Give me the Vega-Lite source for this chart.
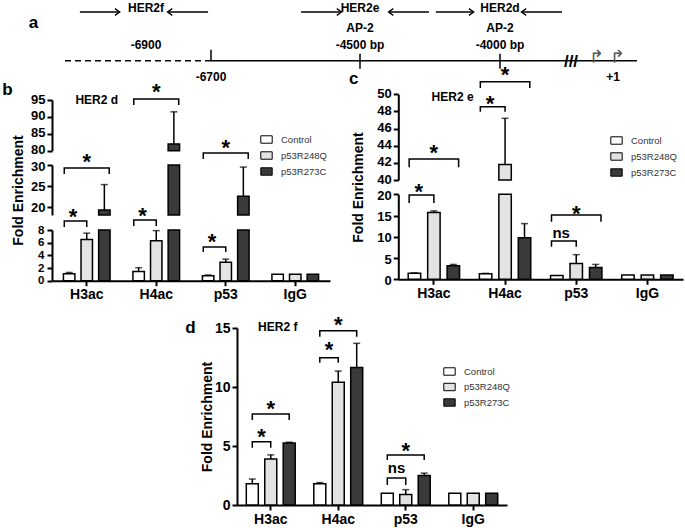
{
"$schema":"https://vega.github.io/schema/vega-lite/v6.json",
"width":685,"height":528,"autosize":{"type":"none"},"padding":0,
"background":"white",
"config":{"view":{"stroke":null},"font":"Liberation Sans",
 "axis":{"domainColor":"black","domainWidth":2,"tickColor":"black","tickWidth":2,"tickSize":5,"labelFontSize":14,"labelFontWeight":"bold","labelColor":"black","labelPadding":2,"grid":false,"labelFont":"Liberation Sans","titleFont":"Liberation Sans","titleColor":"black","titleFontWeight":"bold","titleFontSize":14,"labelFlush":false,"labelOverlap":false},
 "axisX":{"labelAngle":0},
 "text":{"font":"Liberation Sans","color":"black"}
},
"datasets":{
 "a_line":[{"from":-7150,"to":-6700,"kind":"distal"},{"from":-6700,"to":850,"kind":"proximal"}],
 "a_marks":[{"bp":-6700,"kind":"boundary"},{"bp":-4500,"kind":"AP-2 site"},{"bp":-4000,"kind":"AP-2 site"}],
 "a_primers":[
  {"primer":"HER2f","dir":"forward","tail":-7104,"head":-6983},
  {"primer":"HER2f","dir":"reverse","tail":-6709,"head":-6832},
  {"primer":"HER2e","dir":"forward","tail":-5371,"head":-4781},
  {"primer":"HER2e","dir":"reverse","tail":-4254,"head":-4396},
  {"primer":"HER2d","dir":"forward","tail":-4229,"head":-4096},
  {"primer":"HER2d","dir":"reverse","tail":-1817,"head":-3225}],
 "a_text":[
  {"text":"HER2f","bp":-6900,"track":"amplicon"},
  {"text":"HER2e","bp":-4500,"track":"amplicon"},
  {"text":"HER2d","bp":-4000,"track":"amplicon"},
  {"text":"AP-2","bp":-4500,"track":"site"},
  {"text":"AP-2","bp":-4000,"track":"site"},
  {"text":"-6900","bp":-6900,"track":"coord"},
  {"text":"-4500 bp","bp":-4500,"track":"coord"},
  {"text":"-4000 bp","bp":-4000,"track":"coord"},
  {"text":"-6700","bp":-6700,"track":"below"},
  {"text":"+1","bp":1,"track":"below"}],
 "a_tss":[{"bp":-750,"site":"TSS"},{"bp":1,"site":"TSS +1"}],
 "a_break":[{"bp":-1500,"symbol":"///"}],
 "hd":[
  {"group":"H3ac","series":"Control","value":1.1,"upper":1.3},
  {"group":"H3ac","series":"p53R248Q","value":6.5,"upper":7.5},
  {"group":"H3ac","series":"p53R273C","value":19.2,"upper":25.3},
  {"group":"H4ac","series":"Control","value":1.45,"upper":2.05},
  {"group":"H4ac","series":"p53R248Q","value":6.3,"upper":7.9},
  {"group":"H4ac","series":"p53R273C","value":82,"upper":91.5},
  {"group":"p53","series":"Control","value":0.8,"upper":0.9},
  {"group":"p53","series":"p53R248Q","value":2.9,"upper":3.4},
  {"group":"p53","series":"p53R273C","value":22.5,"upper":29.5},
  {"group":"IgG","series":"Control","value":1,"upper":null},
  {"group":"IgG","series":"p53R248Q","value":1,"upper":null},
  {"group":"IgG","series":"p53R273C","value":1,"upper":null}],
 "hd_br":[
  {"id":"b1","group":"H3ac","series":"Control","y":10.0,"ord":1},
  {"id":"b1","group":"H3ac","series":"Control","y":14.0,"ord":2},
  {"id":"b1","group":"H3ac","series":"p53R248Q","y":14.0,"ord":3},
  {"id":"b1","group":"H3ac","series":"p53R248Q","y":10.0,"ord":4},
  {"id":"b2","group":"H3ac","series":"Control","y":27.84,"ord":1},
  {"id":"b2","group":"H3ac","series":"Control","y":29.28,"ord":2},
  {"id":"b2","group":"H3ac","series":"p53R273C","y":29.28,"ord":3},
  {"id":"b2","group":"H3ac","series":"p53R273C","y":27.84,"ord":4},
  {"id":"b3","group":"H4ac","series":"Control","y":10.67,"ord":1},
  {"id":"b3","group":"H4ac","series":"Control","y":14.67,"ord":2},
  {"id":"b3","group":"H4ac","series":"p53R248Q","y":14.67,"ord":3},
  {"id":"b3","group":"H4ac","series":"p53R248Q","y":10.67,"ord":4},
  {"id":"b4","group":"H4ac","series":"Control","y":93.5,"ord":1},
  {"id":"b4","group":"H4ac","series":"Control","y":95.3,"ord":2},
  {"id":"b4","group":"H4ac","series":"p53R273C","y":95.3,"ord":3},
  {"id":"b4","group":"H4ac","series":"p53R273C","y":93.5,"ord":4},
  {"id":"b5","group":"p53","series":"Control","y":4.53,"ord":1},
  {"id":"b5","group":"p53","series":"Control","y":5.32,"ord":2},
  {"id":"b5","group":"p53","series":"p53R248Q","y":5.32,"ord":3},
  {"id":"b5","group":"p53","series":"p53R248Q","y":4.53,"ord":4},
  {"id":"b6","group":"p53","series":"Control","y":51,"ord":1},
  {"id":"b6","group":"p53","series":"Control","y":72,"ord":2},
  {"id":"b6","group":"p53","series":"p53R273C","y":72,"ord":3},
  {"id":"b6","group":"p53","series":"p53R273C","y":51,"ord":4}],
 "hd_sig":[
  {"group":"H3ac","comparison":"Control vs p53R248Q","label":"*","y":18.96},
  {"group":"H3ac","comparison":"Control vs p53R273C","label":"*","y":58},
  {"group":"H4ac","comparison":"Control vs p53R248Q","label":"*","y":19.2},
  {"group":"H4ac","comparison":"Control vs p53R273C","label":"*","y":98.85},
  {"group":"p53","comparison":"Control vs p53R248Q","label":"*","y":6.9},
  {"group":"p53","comparison":"Control vs p53R273C","label":"*","y":82.3}],
 "he":[
  {"group":"H3ac","series":"Control","value":1.4,"upper":1.5},
  {"group":"H3ac","series":"p53R248Q","value":15.7,"upper":16.1},
  {"group":"H3ac","series":"p53R273C","value":3.2,"upper":3.5},
  {"group":"H4ac","series":"Control","value":1.3,"upper":1.4},
  {"group":"H4ac","series":"p53R248Q","value":41.8,"upper":47.2},
  {"group":"H4ac","series":"p53R273C","value":9.8,"upper":13.1},
  {"group":"p53","series":"Control","value":0.9,"upper":null},
  {"group":"p53","series":"p53R248Q","value":3.7,"upper":5.8},
  {"group":"p53","series":"p53R273C","value":2.8,"upper":3.5},
  {"group":"IgG","series":"Control","value":1,"upper":null},
  {"group":"IgG","series":"p53R248Q","value":1,"upper":null},
  {"group":"IgG","series":"p53R273C","value":1,"upper":null}],
 "he_br":[
  {"id":"c1","group":"H3ac","series":"Control","y":17.95,"ord":1},
  {"id":"c1","group":"H3ac","series":"Control","y":19.84,"ord":2},
  {"id":"c1","group":"H3ac","series":"p53R248Q","y":19.84,"ord":3},
  {"id":"c1","group":"H3ac","series":"p53R248Q","y":17.95,"ord":4},
  {"id":"c2","group":"H3ac","series":"Control","y":41.5,"ord":1},
  {"id":"c2","group":"H3ac","series":"Control","y":42.45,"ord":2},
  {"id":"c2","group":"H3ac","series":"p53R273C","y":42.45,"ord":3},
  {"id":"c2","group":"H3ac","series":"p53R273C","y":41.5,"ord":4},
  {"id":"c3","group":"H4ac","series":"Control","y":47.97,"ord":1},
  {"id":"c3","group":"H4ac","series":"Control","y":48.55,"ord":2},
  {"id":"c3","group":"H4ac","series":"p53R248Q","y":48.55,"ord":3},
  {"id":"c3","group":"H4ac","series":"p53R248Q","y":47.97,"ord":4},
  {"id":"c4","group":"H4ac","series":"Control","y":50.74,"ord":1},
  {"id":"c4","group":"H4ac","series":"Control","y":51.47,"ord":2},
  {"id":"c4","group":"H4ac","series":"p53R273C","y":51.47,"ord":3},
  {"id":"c4","group":"H4ac","series":"p53R273C","y":50.74,"ord":4},
  {"id":"c5","group":"p53","series":"Control","y":7.67,"ord":1},
  {"id":"c5","group":"p53","series":"Control","y":9.01,"ord":2},
  {"id":"c5","group":"p53","series":"p53R248Q","y":9.01,"ord":3},
  {"id":"c5","group":"p53","series":"p53R248Q","y":7.67,"ord":4},
  {"id":"c6","group":"p53","series":"Control","y":13.55,"ord":1},
  {"id":"c6","group":"p53","series":"Control","y":15.13,"ord":2},
  {"id":"c6","group":"p53","series":"p53R273C","y":15.13,"ord":3},
  {"id":"c6","group":"p53","series":"p53R273C","y":13.55,"ord":4}],
 "he_sig":[
  {"group":"H3ac","comparison":"Control vs p53R248Q","label":"*","y":30.6},
  {"group":"H3ac","comparison":"Control vs p53R273C","label":"*","y":43.85},
  {"group":"H4ac","comparison":"Control vs p53R248Q","label":"*","y":49.5},
  {"group":"H4ac","comparison":"Control vs p53R273C","label":"*","y":52.84},
  {"group":"p53","comparison":"Control vs p53R248Q","label":"ns","y":10.82},
  {"group":"p53","comparison":"Control vs p53R273C","label":"*","y":16.7}],
 "hf":[
  {"group":"H3ac","series":"Control","value":1.8,"upper":2.2},
  {"group":"H3ac","series":"p53R248Q","value":3.9,"upper":4.25},
  {"group":"H3ac","series":"p53R273C","value":5.25,"upper":5.32},
  {"group":"H4ac","series":"Control","value":1.8,"upper":1.9},
  {"group":"H4ac","series":"p53R248Q","value":10.4,"upper":11.35},
  {"group":"H4ac","series":"p53R273C","value":11.65,"upper":13.7},
  {"group":"p53","series":"Control","value":1.0,"upper":null},
  {"group":"p53","series":"p53R248Q","value":0.9,"upper":1.3},
  {"group":"p53","series":"p53R273C","value":2.5,"upper":2.7},
  {"group":"IgG","series":"Control","value":1,"upper":null},
  {"group":"IgG","series":"p53R248Q","value":1,"upper":null},
  {"group":"IgG","series":"p53R273C","value":1,"upper":null}],
 "hf_br":[
  {"id":"d1","group":"H3ac","series":"Control","y":4.86,"ord":1},
  {"id":"d1","group":"H3ac","series":"Control","y":5.36,"ord":2},
  {"id":"d1","group":"H3ac","series":"p53R248Q","y":5.36,"ord":3},
  {"id":"d1","group":"H3ac","series":"p53R248Q","y":4.86,"ord":4},
  {"id":"d2","group":"H3ac","series":"Control","y":7.2,"ord":1},
  {"id":"d2","group":"H3ac","series":"Control","y":7.71,"ord":2},
  {"id":"d2","group":"H3ac","series":"p53R273C","y":7.71,"ord":3},
  {"id":"d2","group":"H3ac","series":"p53R273C","y":7.2,"ord":4},
  {"id":"d3","group":"H4ac","series":"Control","y":12.06,"ord":1},
  {"id":"d3","group":"H4ac","series":"Control","y":12.48,"ord":2},
  {"id":"d3","group":"H4ac","series":"p53R248Q","y":12.48,"ord":3},
  {"id":"d3","group":"H4ac","series":"p53R248Q","y":12.06,"ord":4},
  {"id":"d4","group":"H4ac","series":"Control","y":14.26,"ord":1},
  {"id":"d4","group":"H4ac","series":"Control","y":14.77,"ord":2},
  {"id":"d4","group":"H4ac","series":"p53R273C","y":14.77,"ord":3},
  {"id":"d4","group":"H4ac","series":"p53R273C","y":14.26,"ord":4},
  {"id":"d5","group":"p53","series":"Control","y":1.69,"ord":1},
  {"id":"d5","group":"p53","series":"Control","y":2.29,"ord":2},
  {"id":"d5","group":"p53","series":"p53R248Q","y":2.29,"ord":3},
  {"id":"d5","group":"p53","series":"p53R248Q","y":1.69,"ord":4},
  {"id":"d6","group":"p53","series":"Control","y":3.81,"ord":1},
  {"id":"d6","group":"p53","series":"Control","y":4.24,"ord":2},
  {"id":"d6","group":"p53","series":"p53R273C","y":4.24,"ord":3},
  {"id":"d6","group":"p53","series":"p53R273C","y":3.81,"ord":4}],
 "hf_sig":[
  {"group":"H3ac","comparison":"Control vs p53R248Q","label":"*","y":6.21},
  {"group":"H3ac","comparison":"Control vs p53R273C","label":"*","y":8.62},
  {"group":"H4ac","comparison":"Control vs p53R248Q","label":"*","y":13.56},
  {"group":"H4ac","comparison":"Control vs p53R273C","label":"*","y":15.68},
  {"group":"p53","comparison":"Control vs p53R248Q","label":"ns","y":3.11},
  {"group":"p53","comparison":"Control vs p53R273C","label":"*","y":5.08}]
},
"layer":[
 {"layer":[
  {"data":{"name":"a_line"},"mark":{"type":"rule","strokeWidth":1.5,"color":"black"},
   "encoding":{
    "x":{"field":"from","type":"quantitative","scale":{"domain":[-7150,-6900,-6700,-4500,-4000,-1500,1,850],"range":[65,146,211,360,500,571,613,637],"nice":false,"zero":false},"axis":null},
    "x2":{"field":"to"},
    "y":{"datum":"line","type":"ordinal","scale":{"type":"point","domain":["amplicon","site","coord","line","below"],"range":[12,77],"padding":0},"axis":{"orient":"left","domain":false,"ticks":false,"labels":false,"title":"a","titleAngle":0,"titleX":33,"titleY":22,"titleFontSize":17,"titleAlign":"center","titleBaseline":"middle"}},
    "strokeDash":{"field":"kind","type":"nominal","scale":{"domain":["distal","proximal"],"range":[[6,4],[1,0]]},"legend":null}}},
  {"data":{"name":"a_marks"},"transform":[{"filter":"datum.kind == 'boundary'"}],"mark":{"type":"rule","strokeWidth":1.5,"color":"black","y2Offset":-11},
   "encoding":{"x":{"field":"bp","type":"quantitative"},"y":{"datum":"line","type":"ordinal"},"y2":{"datum":"line"}}},
  {"data":{"name":"a_marks"},"transform":[{"filter":"datum.kind == 'AP-2 site'"}],"mark":{"type":"rule","strokeWidth":1.5,"color":"black","yOffset":-7,"y2Offset":8},
   "encoding":{"x":{"field":"bp","type":"quantitative"},"y":{"datum":"line","type":"ordinal"},"y2":{"datum":"line"}}},
  {"data":{"name":"a_primers"},"mark":{"type":"rule","strokeWidth":1.3,"color":"black"},
   "encoding":{"x":{"field":"tail","type":"quantitative"},"x2":{"field":"head"},"y":{"datum":"amplicon","type":"ordinal"}}},
  {"data":{"name":"a_primers"},"mark":{"type":"point","filled":false,"stroke":"black","strokeWidth":1.3,"size":70,"opacity":1},
   "encoding":{"x":{"field":"head","type":"quantitative"},"y":{"datum":"amplicon","type":"ordinal"},
    "shape":{"field":"dir","type":"nominal","scale":{"domain":["forward","reverse"],"range":["M-1,-0.8L0.15,0L-1,0.8","M1,-0.8L-0.15,0L1,0.8"]},"legend":null}}},
  {"data":{"name":"a_text"},"transform":[{"filter":"datum.track == 'amplicon'"}],"mark":{"type":"text","fontSize":12,"fontWeight":"bold","align":"center","baseline":"middle","dy":-4},
   "encoding":{"x":{"field":"bp","type":"quantitative"},"y":{"field":"track","type":"ordinal"},"text":{"field":"text"}}},
  {"data":{"name":"a_text"},"transform":[{"filter":"datum.track != 'amplicon'"}],"mark":{"type":"text","fontSize":12,"fontWeight":"bold","align":"center","baseline":"middle"},
   "encoding":{"x":{"field":"bp","type":"quantitative"},"y":{"field":"track","type":"ordinal"},"text":{"field":"text"}}},
  {"data":{"name":"a_break"},"mark":{"type":"text","fontSize":17,"fontWeight":"bold","align":"center","baseline":"middle","dy":1},
   "encoding":{"x":{"field":"bp","type":"quantitative"},"y":{"datum":"line","type":"ordinal"},"text":{"field":"symbol"}}},
  {"data":{"name":"a_tss"},"mark":{"type":"text","font":"DejaVu Sans","fontSize":18,"align":"left","baseline":"alphabetic","dx":-3,"dy":2,"color":"#555555"},
   "encoding":{"x":{"field":"bp","type":"quantitative"},"y":{"datum":"line","type":"ordinal"},"text":{"value":"↱"}}}
 ]},

 {"data":{"name":"hd"},"transform":[{"filter":"datum.value > 80"}],"mark":{"type":"bar","stroke":"black","strokeWidth":1.5},
  "encoding":{
   "x":{"field":"group","type":"nominal","scale":{"domain":["H3ac","H4ac","p53","IgG"],"range":[52,330],"paddingInner":0.24,"paddingOuter":0.12},"axis":null},
   "xOffset":{"field":"series","type":"nominal","scale":{"domain":["Control","p53R248Q","p53R273C"],"paddingInner":0.35,"paddingOuter":0.175}},
   "y":{"field":"value","type":"quantitative","stack":null,"scale":{"domain":[80,95],"range":[150.7,100],"clamp":true,"nice":false,"zero":false},"axis":{"orient":"left","offset":-52,"values":[80,85,90,95],"labelFontSize":13,"labelOffset":-1,"title":"b","titleAngle":0,"titleX":-45,"titleY":89,"titleFontSize":17,"titleAlign":"center","titleBaseline":"middle"}},
   "fill":{"field":"series","type":"nominal","scale":{"domain":["Control","p53R248Q","p53R273C"],"range":["#ffffff","#e3e3e3","#3a3a3a"]},"legend":null}}},
 {"data":{"name":"hd"},"transform":[{"filter":"isValid(datum.upper) && datum.value > 80"}],"mark":{"type":"rule","color":"black","strokeWidth":1.5},
  "encoding":{
   "x":{"field":"group","type":"nominal","scale":{"domain":["H3ac","H4ac","p53","IgG"],"range":[52,330],"paddingInner":0.24,"paddingOuter":0.12},"axis":null},
   "xOffset":{"field":"series","type":"nominal","scale":{"domain":["Control","p53R248Q","p53R273C"],"paddingInner":0.35,"paddingOuter":0.175}},
   "y":{"field":"value","type":"quantitative","scale":{"domain":[80,95],"range":[150.7,100],"clamp":true,"nice":false,"zero":false},"axis":null},"y2":{"field":"upper"}}},
 {"data":{"name":"hd"},"transform":[{"filter":"isValid(datum.upper) && datum.value > 80"}],"mark":{"type":"tick","color":"black","size":7,"thickness":1.5},
  "encoding":{
   "x":{"field":"group","type":"nominal","scale":{"domain":["H3ac","H4ac","p53","IgG"],"range":[52,330],"paddingInner":0.24,"paddingOuter":0.12},"axis":null},
   "xOffset":{"field":"series","type":"nominal","scale":{"domain":["Control","p53R248Q","p53R273C"],"paddingInner":0.35,"paddingOuter":0.175}},
   "y":{"field":"upper","type":"quantitative","scale":{"domain":[80,95],"range":[150.7,100],"clamp":true,"nice":false,"zero":false},"axis":null}}},

 {"data":{"name":"hd"},"transform":[{"filter":"datum.value > 18"}],"mark":{"type":"bar","stroke":"black","strokeWidth":1.5},
  "encoding":{
   "x":{"field":"group","type":"nominal","scale":{"domain":["H3ac","H4ac","p53","IgG"],"range":[52,330],"paddingInner":0.24,"paddingOuter":0.12},"axis":null},
   "xOffset":{"field":"series","type":"nominal","scale":{"domain":["Control","p53R248Q","p53R273C"],"paddingInner":0.35,"paddingOuter":0.175}},
   "y":{"field":"value","type":"quantitative","stack":null,"scale":{"domain":[18,30],"range":[215,165],"clamp":true,"nice":false,"zero":false},"axis":{"orient":"left","offset":-52,"values":[20,25,30],"labelFontSize":13,"labelOffset":1,"title":"Fold Enrichment","titleX":-34,"titleY":190,"titleAngle":-90,"titleAlign":"center","titleBaseline":"middle"}},
   "fill":{"field":"series","type":"nominal","scale":{"domain":["Control","p53R248Q","p53R273C"],"range":["#ffffff","#e3e3e3","#3a3a3a"]},"legend":null}}},
 {"data":{"name":"hd"},"transform":[{"filter":"isValid(datum.upper) && datum.value > 18 && datum.value < 30"}],"mark":{"type":"rule","color":"black","strokeWidth":1.5},
  "encoding":{
   "x":{"field":"group","type":"nominal","scale":{"domain":["H3ac","H4ac","p53","IgG"],"range":[52,330],"paddingInner":0.24,"paddingOuter":0.12},"axis":null},
   "xOffset":{"field":"series","type":"nominal","scale":{"domain":["Control","p53R248Q","p53R273C"],"paddingInner":0.35,"paddingOuter":0.175}},
   "y":{"field":"value","type":"quantitative","scale":{"domain":[18,30],"range":[215,165],"clamp":true,"nice":false,"zero":false},"axis":null},"y2":{"field":"upper"}}},
 {"data":{"name":"hd"},"transform":[{"filter":"isValid(datum.upper) && datum.value > 18 && datum.value < 30"}],"mark":{"type":"tick","color":"black","size":7,"thickness":1.5},
  "encoding":{
   "x":{"field":"group","type":"nominal","scale":{"domain":["H3ac","H4ac","p53","IgG"],"range":[52,330],"paddingInner":0.24,"paddingOuter":0.12},"axis":null},
   "xOffset":{"field":"series","type":"nominal","scale":{"domain":["Control","p53R248Q","p53R273C"],"paddingInner":0.35,"paddingOuter":0.175}},
   "y":{"field":"upper","type":"quantitative","scale":{"domain":[18,30],"range":[215,165],"clamp":true,"nice":false,"zero":false},"axis":null}}},

 {"data":{"name":"hd"},"mark":{"type":"bar","stroke":"black","strokeWidth":1.5},
  "encoding":{
   "x":{"field":"group","type":"nominal","scale":{"domain":["H3ac","H4ac","p53","IgG"],"range":[52,330],"paddingInner":0.24,"paddingOuter":0.12},"axis":{"orient":"bottom","offset":-247.3,"title":null}},
   "xOffset":{"field":"series","type":"nominal","scale":{"domain":["Control","p53R248Q","p53R273C"],"paddingInner":0.35,"paddingOuter":0.175}},
   "y":{"field":"value","type":"quantitative","stack":null,"scale":{"domain":[0,8],"range":[280.7,230],"clamp":true,"nice":false,"zero":false},"axis":{"orient":"left","offset":-52,"values":[0,2,4,6,8],"title":null,"labelFontSize":11.5,"labelPadding":3}},
   "fill":{"field":"series","type":"nominal","scale":{"domain":["Control","p53R248Q","p53R273C"],"range":["#ffffff","#e3e3e3","#3a3a3a"]},"legend":{"orient":"none","legendX":260,"legendY":133,"title":null,"symbolType":"M-1,-0.65H1V0.65H-1Z","symbolSize":130,"symbolStrokeColor":"black","symbolStrokeWidth":1,"labelFontSize":9.5,"labelColor":"#333333","labelFont":"Liberation Sans","labelFontWeight":"normal","rowPadding":3,"labelOffset":8,"padding":0}}}},
 {"data":{"name":"hd"},"transform":[{"filter":"isValid(datum.upper) && datum.value <= 8"}],"mark":{"type":"rule","color":"black","strokeWidth":1.5},
  "encoding":{
   "x":{"field":"group","type":"nominal","scale":{"domain":["H3ac","H4ac","p53","IgG"],"range":[52,330],"paddingInner":0.24,"paddingOuter":0.12},"axis":null},
   "xOffset":{"field":"series","type":"nominal","scale":{"domain":["Control","p53R248Q","p53R273C"],"paddingInner":0.35,"paddingOuter":0.175}},
   "y":{"field":"value","type":"quantitative","scale":{"domain":[0,8],"range":[280.7,230],"clamp":true,"nice":false,"zero":false},"axis":null},"y2":{"field":"upper"}}},
 {"data":{"name":"hd"},"transform":[{"filter":"isValid(datum.upper) && datum.value <= 8"}],"mark":{"type":"tick","color":"black","size":7,"thickness":1.5},
  "encoding":{
   "x":{"field":"group","type":"nominal","scale":{"domain":["H3ac","H4ac","p53","IgG"],"range":[52,330],"paddingInner":0.24,"paddingOuter":0.12},"axis":null},
   "xOffset":{"field":"series","type":"nominal","scale":{"domain":["Control","p53R248Q","p53R273C"],"paddingInner":0.35,"paddingOuter":0.175}},
   "y":{"field":"upper","type":"quantitative","scale":{"domain":[0,8],"range":[280.7,230],"clamp":true,"nice":false,"zero":false},"axis":null}}},

 {"layer":[
  {"data":{"name":"hd_br"},"mark":{"type":"line","color":"black","strokeWidth":1.5},
   "encoding":{"x":{"field":"group","type":"nominal","scale":{"domain":["H3ac","H4ac","p53","IgG"],"range":[52,330],"paddingInner":0.24,"paddingOuter":0.12},"axis":null},
    "xOffset":{"field":"series","type":"nominal","scale":{"domain":["Control","p53R248Q","p53R273C"],"paddingInner":0.35,"paddingOuter":0.175}},
    "y":{"field":"y","type":"quantitative","scale":{"domain":[0,8,18,30,80,95],"range":[280.7,230,215,165,150.7,100],"nice":false,"zero":false},"axis":null},
    "detail":{"field":"id"},"order":{"field":"ord"}}},
  {"data":{"name":"hd_sig"},"transform":[{"filter":"datum.comparison == 'Control vs p53R248Q'"}],"mark":{"type":"text","fontSize":22,"fontWeight":"bold","align":"center","baseline":"middle","dx":8.8,"dy":5.5},
   "encoding":{"x":{"field":"group","type":"nominal"},"xOffset":{"datum":"Control","type":"nominal"},"y":{"field":"y","type":"quantitative"},"text":{"field":"label"}}},
  {"data":{"name":"hd_sig"},"transform":[{"filter":"datum.comparison == 'Control vs p53R273C'"}],"mark":{"type":"text","fontSize":22,"fontWeight":"bold","align":"center","baseline":"middle","dy":5.5},
   "encoding":{"x":{"field":"group","type":"nominal"},"xOffset":{"datum":"p53R248Q","type":"nominal"},"y":{"field":"y","type":"quantitative"},"text":{"field":"label"}}},
  {"data":{"values":[{"target":"HER2 d"}]},"mark":{"type":"text","fontSize":12,"fontWeight":"bold","align":"center","baseline":"middle","dx":10},
   "encoding":{"x":{"datum":"H3ac","type":"nominal"},"xOffset":{"datum":"p53R248Q","type":"nominal"},"y":{"datum":95,"type":"quantitative"},"text":{"field":"target"}}}
 ]},

 {"data":{"name":"he"},"transform":[{"filter":"datum.value > 40"}],"mark":{"type":"bar","stroke":"black","strokeWidth":1.5},
  "encoding":{
   "x":{"field":"group","type":"nominal","scale":{"domain":["H3ac","H4ac","p53","IgG"],"range":[398.3,683],"paddingInner":0.18,"paddingOuter":0.09},"axis":null},
   "xOffset":{"field":"series","type":"nominal","scale":{"domain":["Control","p53R248Q","p53R273C"],"paddingInner":0.36,"paddingOuter":0.18}},
   "y":{"field":"value","type":"quantitative","stack":null,"scale":{"domain":[40,50],"range":[180,94.3],"clamp":true,"nice":false,"zero":false},"axis":{"orient":"left","offset":-398.3,"values":[40,42,44,46,48,50],"labelFontSize":13,"labelOffset":-1,"title":"c","titleAngle":0,"titleX":-45,"titleY":78,"titleFontSize":17,"titleAlign":"center","titleBaseline":"middle"}},
   "fill":{"field":"series","type":"nominal","scale":{"domain":["Control","p53R248Q","p53R273C"],"range":["#ffffff","#e3e3e3","#3a3a3a"]},"legend":null}}},
 {"data":{"name":"he"},"transform":[{"filter":"isValid(datum.upper) && datum.value > 40"}],"mark":{"type":"rule","color":"black","strokeWidth":1.5},
  "encoding":{
   "x":{"field":"group","type":"nominal","scale":{"domain":["H3ac","H4ac","p53","IgG"],"range":[398.3,683],"paddingInner":0.18,"paddingOuter":0.09},"axis":null},
   "xOffset":{"field":"series","type":"nominal","scale":{"domain":["Control","p53R248Q","p53R273C"],"paddingInner":0.36,"paddingOuter":0.18}},
   "y":{"field":"value","type":"quantitative","scale":{"domain":[40,50],"range":[180,94.3],"clamp":true,"nice":false,"zero":false},"axis":null},"y2":{"field":"upper"}}},
 {"data":{"name":"he"},"transform":[{"filter":"isValid(datum.upper) && datum.value > 40"}],"mark":{"type":"tick","color":"black","size":7,"thickness":1.5},
  "encoding":{
   "x":{"field":"group","type":"nominal","scale":{"domain":["H3ac","H4ac","p53","IgG"],"range":[398.3,683],"paddingInner":0.18,"paddingOuter":0.09},"axis":null},
   "xOffset":{"field":"series","type":"nominal","scale":{"domain":["Control","p53R248Q","p53R273C"],"paddingInner":0.36,"paddingOuter":0.18}},
   "y":{"field":"upper","type":"quantitative","scale":{"domain":[40,50],"range":[180,94.3],"clamp":true,"nice":false,"zero":false},"axis":null}}},

 {"data":{"name":"he"},"mark":{"type":"bar","stroke":"black","strokeWidth":1.5},
  "encoding":{
   "x":{"field":"group","type":"nominal","scale":{"domain":["H3ac","H4ac","p53","IgG"],"range":[398.3,683],"paddingInner":0.18,"paddingOuter":0.09},"axis":{"orient":"bottom","offset":-248.7,"title":null}},
   "xOffset":{"field":"series","type":"nominal","scale":{"domain":["Control","p53R248Q","p53R273C"],"paddingInner":0.36,"paddingOuter":0.18}},
   "y":{"field":"value","type":"quantitative","stack":null,"scale":{"domain":[0,20],"range":[279.3,194.3],"clamp":true,"nice":false,"zero":false},"axis":{"orient":"left","offset":-398.3,"values":[0,5,10,15,20],"labelFontSize":13,"labelOffset":1,"title":"Fold Enrichment","titleX":-40,"titleY":187,"titleAngle":-90,"titleAlign":"center","titleBaseline":"middle"}},
   "fill":{"field":"series","type":"nominal","scale":{"domain":["Control","p53R248Q","p53R273C"],"range":["#ffffff","#e3e3e3","#3a3a3a"]},"legend":{"orient":"none","legendX":610,"legendY":134,"title":null,"symbolType":"M-1,-0.65H1V0.65H-1Z","symbolSize":130,"symbolStrokeColor":"black","symbolStrokeWidth":1,"labelFontSize":9.5,"labelColor":"#333333","labelFont":"Liberation Sans","labelFontWeight":"normal","rowPadding":3,"labelOffset":8,"padding":0}}}},
 {"data":{"name":"he"},"transform":[{"filter":"isValid(datum.upper) && datum.value <= 20"}],"mark":{"type":"rule","color":"black","strokeWidth":1.5},
  "encoding":{
   "x":{"field":"group","type":"nominal","scale":{"domain":["H3ac","H4ac","p53","IgG"],"range":[398.3,683],"paddingInner":0.18,"paddingOuter":0.09},"axis":null},
   "xOffset":{"field":"series","type":"nominal","scale":{"domain":["Control","p53R248Q","p53R273C"],"paddingInner":0.36,"paddingOuter":0.18}},
   "y":{"field":"value","type":"quantitative","scale":{"domain":[0,20],"range":[279.3,194.3],"clamp":true,"nice":false,"zero":false},"axis":null},"y2":{"field":"upper"}}},
 {"data":{"name":"he"},"transform":[{"filter":"isValid(datum.upper) && datum.value <= 20"}],"mark":{"type":"tick","color":"black","size":7,"thickness":1.5},
  "encoding":{
   "x":{"field":"group","type":"nominal","scale":{"domain":["H3ac","H4ac","p53","IgG"],"range":[398.3,683],"paddingInner":0.18,"paddingOuter":0.09},"axis":null},
   "xOffset":{"field":"series","type":"nominal","scale":{"domain":["Control","p53R248Q","p53R273C"],"paddingInner":0.36,"paddingOuter":0.18}},
   "y":{"field":"upper","type":"quantitative","scale":{"domain":[0,20],"range":[279.3,194.3],"clamp":true,"nice":false,"zero":false},"axis":null}}},

 {"layer":[
  {"data":{"name":"he_br"},"mark":{"type":"line","color":"black","strokeWidth":1.5},
   "encoding":{"x":{"field":"group","type":"nominal","scale":{"domain":["H3ac","H4ac","p53","IgG"],"range":[398.3,683],"paddingInner":0.18,"paddingOuter":0.09},"axis":null},
    "xOffset":{"field":"series","type":"nominal","scale":{"domain":["Control","p53R248Q","p53R273C"],"paddingInner":0.36,"paddingOuter":0.18}},
    "y":{"field":"y","type":"quantitative","scale":{"domain":[0,20,40,50],"range":[279.3,194.3,180,94.3],"nice":false,"zero":false},"axis":null},
    "detail":{"field":"id"},"order":{"field":"ord"}}},
  {"data":{"name":"he_sig"},"transform":[{"filter":"datum.comparison == 'Control vs p53R248Q' && datum.label == '*'"}],"mark":{"type":"text","fontSize":22,"fontWeight":"bold","align":"center","baseline":"middle","dx":9.7,"dy":5.5},
   "encoding":{"x":{"field":"group","type":"nominal"},"xOffset":{"datum":"Control","type":"nominal"},"y":{"field":"y","type":"quantitative"},"text":{"field":"label"}}},
  {"data":{"name":"he_sig"},"transform":[{"filter":"datum.label == 'ns'"}],"mark":{"type":"text","fontSize":15,"fontWeight":"bold","align":"center","baseline":"middle","dx":9.7},
   "encoding":{"x":{"field":"group","type":"nominal"},"xOffset":{"datum":"Control","type":"nominal"},"y":{"field":"y","type":"quantitative"},"text":{"field":"label"}}},
  {"data":{"name":"he_sig"},"transform":[{"filter":"datum.comparison == 'Control vs p53R273C'"}],"mark":{"type":"text","fontSize":22,"fontWeight":"bold","align":"center","baseline":"middle","dy":5.5},
   "encoding":{"x":{"field":"group","type":"nominal"},"xOffset":{"datum":"p53R248Q","type":"nominal"},"y":{"field":"y","type":"quantitative"},"text":{"field":"label"}}},
  {"data":{"values":[{"target":"HER2 e"}]},"mark":{"type":"text","fontSize":12,"fontWeight":"bold","align":"center","baseline":"middle","dx":-6},
   "encoding":{"x":{"datum":"H3ac","type":"nominal"},"xOffset":{"datum":"p53R273C","type":"nominal"},"y":{"datum":49.72,"type":"quantitative"},"text":{"field":"target"}}}
 ]},

 {"layer":[
  {"data":{"name":"hf"},"mark":{"type":"bar","stroke":"black","strokeWidth":1.5},
   "encoding":{
    "x":{"field":"group","type":"nominal","scale":{"domain":["H3ac","H4ac","p53","IgG"],"range":[237,507],"paddingInner":0.18,"paddingOuter":0.09},"axis":{"orient":"bottom","offset":-23,"title":"d","titleX":190,"titleY":-178,"titleAngle":0,"titleFontSize":17,"titleAlign":"center","titleBaseline":"middle"}},
    "xOffset":{"field":"series","type":"nominal","scale":{"domain":["Control","p53R248Q","p53R273C"],"paddingInner":0.35,"paddingOuter":0.175}},
    "y":{"field":"value","type":"quantitative","stack":null,"scale":{"domain":[0,15],"range":[505,328],"nice":false,"zero":false},"axis":{"orient":"left","offset":-237,"values":[0,5,10,15],"title":"Fold Enrichment","titleX":-30,"titleY":416.5,"titleAngle":-90,"titleAlign":"center","titleBaseline":"middle"}},
    "fill":{"field":"series","type":"nominal","scale":{"domain":["Control","p53R248Q","p53R273C"],"range":["#ffffff","#e3e3e3","#3a3a3a"]},"legend":{"orient":"none","legendX":443,"legendY":365,"title":null,"symbolType":"M-1,-0.65H1V0.65H-1Z","symbolSize":130,"symbolStrokeColor":"black","symbolStrokeWidth":1,"labelFontSize":9.5,"labelColor":"#333333","labelFont":"Liberation Sans","labelFontWeight":"normal","rowPadding":2.5,"labelOffset":8,"padding":0}}}},
  {"data":{"name":"hf"},"transform":[{"filter":"isValid(datum.upper)"}],"mark":{"type":"rule","color":"black","strokeWidth":1.5},
   "encoding":{"x":{"field":"group","type":"nominal"},"xOffset":{"field":"series","type":"nominal"},"y":{"field":"value","type":"quantitative"},"y2":{"field":"upper"}}},
  {"data":{"name":"hf"},"transform":[{"filter":"isValid(datum.upper)"}],"mark":{"type":"tick","color":"black","size":7,"thickness":1.5},
   "encoding":{"x":{"field":"group","type":"nominal"},"xOffset":{"field":"series","type":"nominal"},"y":{"field":"upper","type":"quantitative"}}},
  {"data":{"name":"hf_br"},"mark":{"type":"line","color":"black","strokeWidth":1.5},
   "encoding":{"x":{"field":"group","type":"nominal"},"xOffset":{"field":"series","type":"nominal"},"y":{"field":"y","type":"quantitative"},"detail":{"field":"id"},"order":{"field":"ord"}}},
  {"data":{"name":"hf_sig"},"transform":[{"filter":"datum.comparison == 'Control vs p53R248Q' && datum.label == '*'"}],"mark":{"type":"text","fontSize":22,"fontWeight":"bold","align":"center","baseline":"middle","dx":9.2,"dy":5.5},
   "encoding":{"x":{"field":"group","type":"nominal"},"xOffset":{"datum":"Control","type":"nominal"},"y":{"field":"y","type":"quantitative"},"text":{"field":"label"}}},
  {"data":{"name":"hf_sig"},"transform":[{"filter":"datum.label == 'ns'"}],"mark":{"type":"text","fontSize":15,"fontWeight":"bold","align":"center","baseline":"middle","dx":9.2},
   "encoding":{"x":{"field":"group","type":"nominal"},"xOffset":{"datum":"Control","type":"nominal"},"y":{"field":"y","type":"quantitative"},"text":{"field":"label"}}},
  {"data":{"name":"hf_sig"},"transform":[{"filter":"datum.comparison == 'Control vs p53R273C'"}],"mark":{"type":"text","fontSize":22,"fontWeight":"bold","align":"center","baseline":"middle","dy":5.5},
   "encoding":{"x":{"field":"group","type":"nominal"},"xOffset":{"datum":"p53R248Q","type":"nominal"},"y":{"field":"y","type":"quantitative"},"text":{"field":"label"}}},
  {"data":{"values":[{"target":"HER2 f"}]},"mark":{"type":"text","fontSize":12,"fontWeight":"bold","align":"center","baseline":"middle","dx":7},
   "encoding":{"x":{"datum":"H3ac","type":"nominal"},"xOffset":{"datum":"p53R248Q","type":"nominal"},"y":{"datum":15.08,"type":"quantitative"},"text":{"field":"target"}}}
 ]}
],
"resolve":{"scale":{"x":"independent","y":"independent","xOffset":"independent","fill":"independent"},"axis":{"x":"independent","y":"independent"},"legend":{"fill":"independent"}}
}
